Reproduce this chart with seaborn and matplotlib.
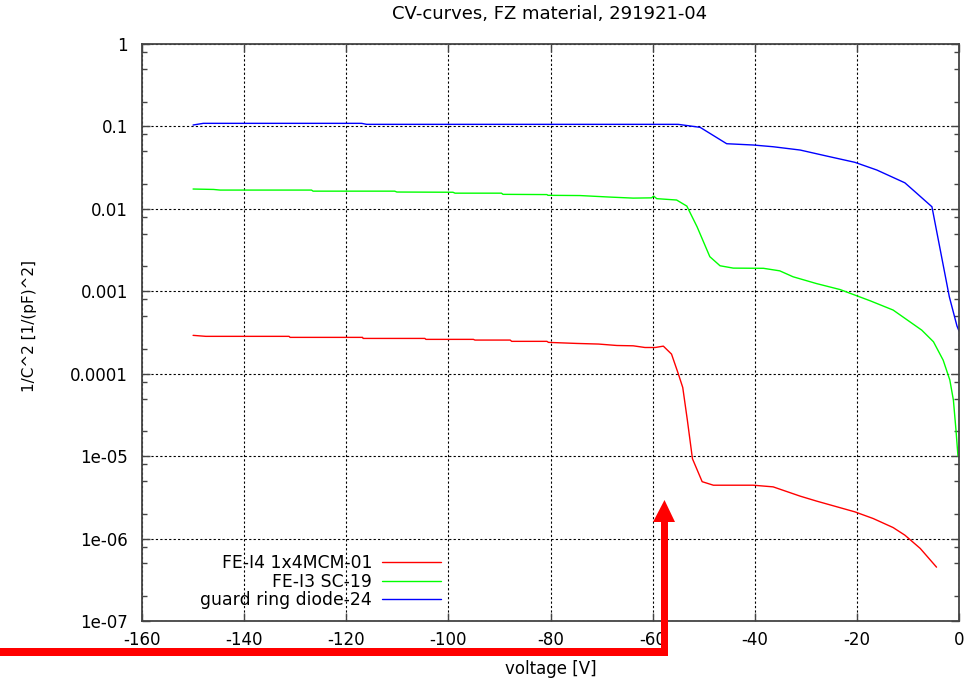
import matplotlib
matplotlib.use("Agg")
import matplotlib.pyplot as plt
import seaborn as sns
import numpy as np
import pandas as pd
from matplotlib.patches import Polygon
from matplotlib.ticker import FixedLocator, NullFormatter

# ---------------- data ----------------
title = "CV-curves, FZ material, 291921-04"
xlabel = "voltage [V]"
ylabel = "1/C^2 [1/(pF)^2]"

series_names = ["FE-I4 1x4MCM-01", "FE-I3 SC-19", "guard ring diode-24"]
series_colors = ["#ff0000", "#00ff00", "#0000ff"]

red_v = [-150, -147.5, -131.2, -131.0, -116.8, -116.7, -104.6, -104.4, -95.1, -94.8,
         -87.9, -87.6, -80.7, -80.4, -74.9, -70.6, -67.0, -63.8, -61.5, -59.5,
         -57.9, -56.3, -55.0, -54.1, -53.2, -52.2, -50.3, -48.1, -40.3, -36.4,
         -31.1, -27.9, -20.4, -16.8, -12.9, -10.6, -7.6, -4.4]
red_c = [2.92e-4, 2.84e-4, 2.84e-4, 2.76e-4, 2.76e-4, 2.68e-4, 2.68e-4, 2.61e-4, 2.61e-4, 2.56e-4,
         2.56e-4, 2.47e-4, 2.47e-4, 2.40e-4, 2.33e-4, 2.29e-4, 2.20e-4, 2.18e-4, 2.08e-4, 2.08e-4,
         2.16e-4, 1.73e-4, 1.01e-4, 6.8e-5, 2.74e-5, 9.3e-6, 4.9e-6, 4.44e-6, 4.44e-6, 4.24e-6,
         3.27e-6, 2.85e-6, 2.11e-6, 1.75e-6, 1.36e-6, 1.10e-6, 7.6e-7, 4.5e-7]

green_v = [-150, -146, -144.7, -126.8, -126.5, -110.5, -110.1, -99.1, -98.7, -89.6,
           -89.3, -80.7, -80.5, -74.2, -68.4, -63.8, -60.2, -59.8, -59.2, -55.3,
           -53.3, -51.3, -48.8, -46.8, -44.2, -38.3, -35.1, -32.5, -27.9, -23.3,
           -20.4, -17.4, -12.9, -7.3, -5.0, -3.1, -1.8, -1.1, -0.6, -0.2]
green_c = [0.0174, 0.0172, 0.0169, 0.0169, 0.0164, 0.0164, 0.0160, 0.0159, 0.0155, 0.0155,
           0.0150, 0.0149, 0.0146, 0.0145, 0.0139, 0.0135, 0.0136, 0.0143, 0.0133, 0.0128,
           0.0108, 0.00607, 0.00263, 0.00204, 0.00191, 0.00190, 0.00177, 0.00150, 0.00124, 0.00105,
           0.00090, 0.000767, 0.000592, 0.000338, 0.000244, 0.000146, 8.4e-5, 4.8e-5, 2.1e-5, 1.0e-5]

blue_v = [-150, -148, -117, -116, -70, -55, -50.7, -45.5, -40.3, -36.4,
          -31.1, -25.9, -20.4, -16.1, -10.6, -8.6, -5.3, -1.9, -0.4, 0]
blue_c = [0.104, 0.109, 0.109, 0.106, 0.106, 0.106, 0.0975, 0.0617, 0.0595, 0.0567,
          0.0517, 0.0437, 0.0367, 0.0296, 0.0207, 0.0161, 0.0106, 0.00086, 0.00038, 0.00033]

x_ticks = [-160, -140, -120, -100, -80, -60, -40, -20, 0]
y_ticks = [1e-7, 1e-6, 1e-5, 1e-4, 1e-3, 1e-2, 1e-1, 1]
y_tick_labels = ["1e-07", "1e-06", "1e-05", "0.0001", "0.001", "0.01", "0.1", "1"]

# ---------------- figure ----------------
sns.set_theme(style="ticks")
plt.rcParams["font.family"] = ["DejaVu Sans"]
plt.rcParams["font.size"] = 12
plt.rcParams["text.color"] = "black"
plt.rcParams["axes.labelcolor"] = "black"
plt.rcParams["xtick.color"] = "#444444"
plt.rcParams["ytick.color"] = "#444444"

W, H = 965, 678
fig = plt.figure(figsize=(W / 100, H / 100), dpi=100)
L, R, T, B = 142, 959, 44, 621
ax = fig.add_axes([L / W, 1 - B / H, (R - L) / W, (B - T) / H])

frames = []
for name, v, c in zip(series_names, [red_v, green_v, blue_v], [red_c, green_c, blue_c]):
    frames.append(pd.DataFrame({"voltage": v, "invC2": c, "series": name}))
df = pd.concat(frames, ignore_index=True)

for name, col in zip(series_names, series_colors):
    sub = df[df["series"] == name]
    sns.lineplot(data=sub, x="voltage", y="invC2", ax=ax, color=col, lw=1.0,
                 sort=False, estimator=None, label=name)

ax.set_yscale("log")
ax.set_xlim(-160, 0)
ax.set_ylim(1e-7, 1)
ax.set_xticks(x_ticks)
ax.set_xticklabels([str(t) for t in x_ticks])
ax.set_yticks(y_ticks)
ax.set_yticklabels(y_tick_labels)
minor = [m * 10.0 ** e for e in range(-7, 0) for m in (2, 5, 8)]
ax.yaxis.set_minor_locator(FixedLocator(minor))
ax.yaxis.set_minor_formatter(NullFormatter())

ax.grid(True, which="major", color="black", linestyle=(0, (2, 2)), lw=0.8)
for s in ax.spines.values():
    s.set_color("#444444")
    s.set_linewidth(1.3)
    s.set_visible(True)

ax.tick_params(which="major", direction="in", length=6, width=1.0, color="#444444",
               top=True, right=True, labelsize=12, labelcolor="black")
ax.tick_params(axis="x", which="major", pad=7)
ax.tick_params(axis="y", which="major", pad=10)
ax.tick_params(which="minor", direction="in", length=3.6, width=1.0, color="#444444",
               left=True, right=True)

ax.set_xlabel(xlabel, fontsize=12, color="black")
ax.xaxis.set_label_coords(0.5, (B - 669) / (B - T))
ax.xaxis.label.set_verticalalignment("center")
ax.set_ylabel(ylabel, fontsize=11, color="black")
ax.yaxis.set_label_coords((29 - L) / (R - L), (B - 326) / (B - T))
ax.yaxis.label.set_rotation_mode("default")
ax.yaxis.label.set_verticalalignment("center")
ax.yaxis.label.set_horizontalalignment("center")

fig.text(550 / W, 1 - 14 / H, title, ha="center", va="center", fontsize=13, color="black")

leg = ax.legend(loc="lower right", bbox_to_anchor=((441 - L) / (R - L), 0.02),
                frameon=False, markerfirst=False, fontsize=12.4, handlelength=3.4,
                handletextpad=0.6, labelspacing=0.05, borderpad=0, borderaxespad=0)
for t in leg.get_texts():
    t.set_color("black")
for line in leg.get_lines():
    line.set_linewidth(1.0)

# ---------------- red arrow annotation (figure pixels) ----------------
def fp(x, y):
    return (x / W, 1 - y / H)

horiz = Polygon([fp(0, 648), fp(668, 648), fp(668, 656), fp(0, 656)], closed=True,
                transform=fig.transFigure, facecolor="#ff0000", edgecolor="none", zorder=10)
vert = Polygon([fp(661, 656), fp(668, 656), fp(668, 521), fp(661, 521)], closed=True,
               transform=fig.transFigure, facecolor="#ff0000", edgecolor="none", zorder=10)
head = Polygon([fp(653, 522), fp(675, 522), fp(664.5, 500)], closed=True,
               transform=fig.transFigure, facecolor="#ff0000", edgecolor="none", zorder=10)
for p in (horiz, vert, head):
    fig.add_artist(p)

fig.savefig("out.png", dpi=100)
